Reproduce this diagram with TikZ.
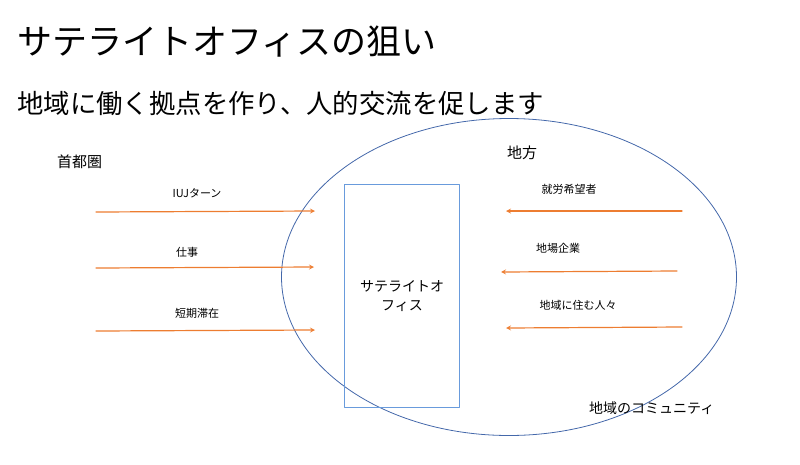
\documentclass[tikz,border=0pt]{standalone}
\usepackage{fontspec}
\setmainfont{Noto Sans CJK JP}
\usetikzlibrary{shapes.geometric}
\definecolor{flowor}{RGB}{237,125,49}
\definecolor{ringblue}{RGB}{68,104,170}
\definecolor{officeblue}{RGB}{105,155,220}
\begin{document}
\begin{tikzpicture}[>=stealth,line cap=round,line join=round,x=1pt,y=-1pt,
	lbl/.style={inner sep=0pt,font=\fontsize{11}{13}\selectfont},
	head/.style={inner sep=0pt,anchor=west,font=\fontsize{15}{18}\selectfont},
	flow/.style={->,flowor,line width=1.2pt}]
	\useasboundingbox (0,0) rectangle (800,464);
	\node[anchor=west,inner sep=0pt,font=\fontsize{35}{40}\selectfont] (title) at (17,42) {サテライトオフィスの狙い};
	\node[anchor=west,inner sep=0pt,font=\fontsize{26.4}{30}\selectfont] (sub) at (17,103) {地域に働く拠点を作り、人的交流を促します};
	\node[draw=ringblue,ellipse,line width=0.8pt,inner sep=0pt,minimum width=455pt,minimum height=317pt] (region) at (509,277) {};
	\node[minimum width=114pt,minimum height=222pt,align=center,font=\fontsize{14}{19}\selectfont] (office) at (402,296) {サテライトオ\\フィス};
	\draw[officeblue,line width=0.9pt] (office.north west) rectangle (office.south east);
	\node[head] (metro) at (57,162) {首都圏};
	\node[head] (local) at (507,153) {地方};
	\node[anchor=west,inner sep=0pt,font=\fontsize{14}{17}\selectfont] (comm) at (589,408) {地域のコミュニティ};
	% from the capital
	\coordinate (in1) at (96,212); \coordinate (to1) at (315,211);
	\coordinate (in2) at (96,268); \coordinate (to2) at (314,267);
	\coordinate (in3) at (96,331); \coordinate (to3) at (315,330);
	\draw[flow] (in1) -- (to1);
	\draw[flow] (in2) -- (to2);
	\draw[flow] (in3) -- (to3);
	\node[lbl] (uturn) at (197,193) {IUJターン};
	\node[lbl] (work) at (187,252) {仕事};
	\node[lbl] (stay) at (197,313) {短期滞在};
	% from the region
	\coordinate (out1) at (682,211); \coordinate (at1) at (506,211);
	\coordinate (out2) at (677,271); \coordinate (at2) at (501,272);
	\coordinate (out3) at (682,327); \coordinate (at3) at (506,328);
	\draw[flow] (out1) -- (at1);
	\draw[flow] (out2) -- (at2);
	\draw[flow] (out3) -- (at3);
	\node[lbl] (seekers) at (569,189) {就労希望者};
	\node[lbl] (firms) at (558,248) {地場企業};
	\node[lbl] (people) at (578,305) {地域に住む人々};
\end{tikzpicture}
\end{document}
